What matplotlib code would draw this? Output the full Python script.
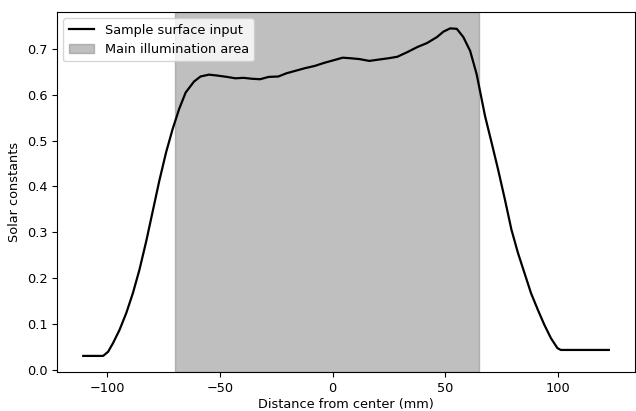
import numpy as np
import matplotlib
matplotlib.use("Agg")
import matplotlib.pyplot as plt

# Profile (distance in mm, intensity in solar constants)
distance = [-110.5, -101.7, -99.5, -97.3, -94.4, -91.4, -88.5, -85.6, -82.6,
            -79.7, -76.8, -73.8, -70.9, -68.0, -65.1, -61.4, -58.5, -54.8,
            -51.1, -46.7, -43.1, -39.4, -35.7, -32.1, -28.4, -24.0, -20.4,
            -16.7, -12.3, -7.9, -3.5, 0.9, 4.5, 7.5, 11.9, 16.3, 20.7, 25.1,
            28.7, 33.1, 37.5, 41.9, 46.3, 49.2, 52.2, 55.1, 58.0, 61.0, 63.9,
            67.6, 70.5, 73.4, 76.4, 79.3, 82.2, 85.1, 88.0, 91.0, 93.9, 96.8,
            99.7, 101.2, 110.0, 122.5]
intensity = [0.030, 0.030, 0.039, 0.058, 0.087, 0.124, 0.167, 0.218, 0.280,
             0.346, 0.412, 0.474, 0.525, 0.569, 0.605, 0.629, 0.640, 0.644,
             0.642, 0.639, 0.636, 0.637, 0.635, 0.634, 0.639, 0.640, 0.647,
             0.652, 0.658, 0.663, 0.670, 0.676, 0.681, 0.680, 0.678, 0.674,
             0.677, 0.680, 0.683, 0.693, 0.704, 0.713, 0.726, 0.738, 0.745,
             0.744, 0.726, 0.696, 0.645, 0.554, 0.496, 0.437, 0.372, 0.306,
             0.255, 0.211, 0.167, 0.131, 0.098, 0.069, 0.047, 0.043, 0.043,
             0.043]

# Main illumination area bounds (mm)
area_start = -70
area_end = 65

plt.rcParams['font.size'] = 9.3
plt.rcParams['xtick.major.size'] = 3.3
plt.rcParams['ytick.major.size'] = 3.3

fig = plt.figure(figsize=(6.36, 4.11), dpi=100)
ax = fig.add_axes([0.0896, 0.0942, 0.909, 0.8766])

ax.plot(distance, intensity, color='black', linewidth=1.6, label='Sample surface input')
ax.axvspan(area_start, area_end, color='grey', alpha=0.5, label='Main illumination area')

ax.set_xlabel('Distance from center (mm)', labelpad=2)
ax.set_ylabel('Solar constants')
ax.set_xticks([-100, -50, 0, 50, 100])
ax.legend(loc='upper left')

plt.savefig('out.png', dpi=100)
